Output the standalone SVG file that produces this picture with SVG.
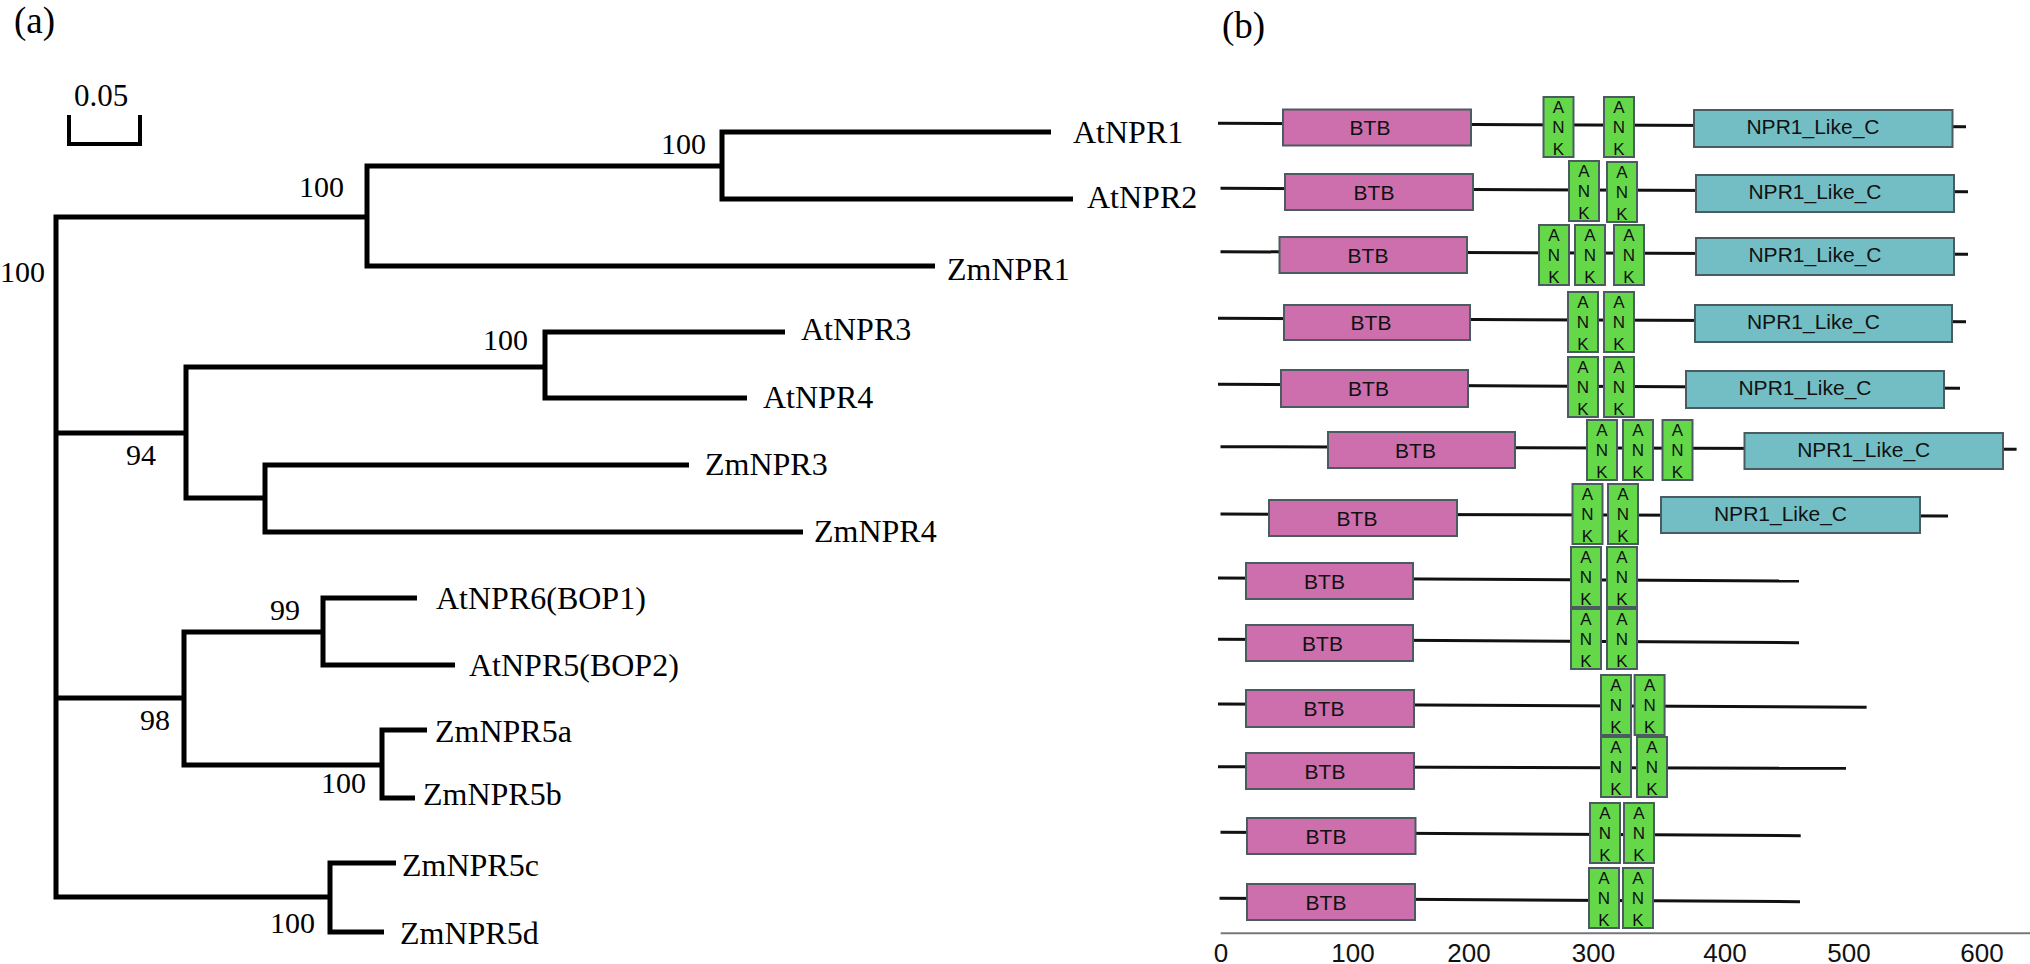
<svg xmlns="http://www.w3.org/2000/svg" width="2030" height="964" viewBox="0 0 2030 964">
<style>
.br{fill:none;stroke:#000;stroke-width:5;stroke-linejoin:miter;stroke-linecap:butt}
.sb{fill:none;stroke:#000;stroke-width:4}
.tf{font-family:"Liberation Serif","Times New Roman",serif;font-size:32px;fill:#000}
.bs{font-family:"Liberation Serif","Times New Roman",serif;font-size:30px;fill:#000}
.pl{font-family:"Liberation Serif","Times New Roman",serif;font-size:37px;fill:#000}
.ln{fill:none;stroke:#111;stroke-width:3}
.btb{fill:#CD6EAD;stroke:#4A5C60;stroke-width:2}
.npr{fill:#72BEC4;stroke:#4A5C60;stroke-width:2}
.ank{fill:#65D84A;stroke:#4A5C60;stroke-width:2}
.dt{font-family:"Liberation Sans",Arial,sans-serif;font-size:21px;text-anchor:middle;fill:#111}
.ak{font-family:"Liberation Sans",Arial,sans-serif;font-size:17px;text-anchor:middle;fill:#111}
.ax{font-family:"Liberation Sans",Arial,sans-serif;font-size:26px;text-anchor:middle;fill:#111}
</style>
<defs>
<g id="ank3"><rect class="ank" x="0" y="0" width="30" height="60"/><text class="ak" x="15" y="16">A</text><text class="ak" x="15" y="36">N</text><text class="ak" x="15" y="58">K</text></g>
</defs>
<rect x="0" y="0" width="2030" height="964" fill="#fff"/>
<text class="pl" x="14" y="33">(a)</text>
<text class="pl" x="1222" y="38">(b)</text>
<g id="scalebar"><path class="sb" d="M69,115 V144 H140 V115"/><text class="tf" x="74" y="106" style="font-size:31px">0.05</text></g>
<g id="connectors">
<path class="br" d="M367,217 H56 V897 H330"/>
<path class="br" d="M56,433 H186"/>
<path class="br" d="M56,698 H184"/>
<path class="br" d="M722,166 H367 V266 H935"/>
<path class="br" d="M1051,132 H722 V199 H1073"/>
<path class="br" d="M545,367 H186 V498 H265"/>
<path class="br" d="M785,332 H545 V398 H747"/>
<path class="br" d="M689,465 H265 V532 H803"/>
<path class="br" d="M323,632 H184 V765 H382"/>
<path class="br" d="M417,598 H323 V665 H455"/>
<path class="br" d="M427,730 H382 V798 H415"/>
<path class="br" d="M396,863 H330 V932 H384"/>
</g>
<g id="bootstrap">
<text class="bs" x="0" y="282">100</text>
<text class="bs" x="299" y="197">100</text>
<text class="bs" x="661" y="154">100</text>
<text class="bs" x="483" y="350">100</text>
<text class="bs" x="126" y="465">94</text>
<text class="bs" x="270" y="620">99</text>
<text class="bs" x="140" y="730">98</text>
<text class="bs" x="321" y="793">100</text>
<text class="bs" x="270" y="933">100</text>
</g>
<g id="leaf-AtNPR1"><text class="tf" x="1073" y="143">AtNPR1</text></g>
<g id="leaf-AtNPR2"><text class="tf" x="1087" y="208">AtNPR2</text></g>
<g id="leaf-ZmNPR1"><text class="tf" x="947" y="280">ZmNPR1</text></g>
<g id="leaf-AtNPR3"><text class="tf" x="801" y="340">AtNPR3</text></g>
<g id="leaf-AtNPR4"><text class="tf" x="763" y="408">AtNPR4</text></g>
<g id="leaf-ZmNPR3"><text class="tf" x="705" y="475">ZmNPR3</text></g>
<g id="leaf-ZmNPR4"><text class="tf" x="814" y="542">ZmNPR4</text></g>
<g id="leaf-AtNPR6"><text class="tf" x="436" y="609">AtNPR6(BOP1)</text></g>
<g id="leaf-AtNPR5"><text class="tf" x="469" y="676">AtNPR5(BOP2)</text></g>
<g id="leaf-ZmNPR5a"><text class="tf" x="435" y="742">ZmNPR5a</text></g>
<g id="leaf-ZmNPR5b"><text class="tf" x="423" y="805">ZmNPR5b</text></g>
<g id="leaf-ZmNPR5c"><text class="tf" x="402" y="876">ZmNPR5c</text></g>
<g id="leaf-ZmNPR5d"><text class="tf" x="400" y="944">ZmNPR5d</text></g>

<g id="domain-lines">
<path class="ln" d="M1218,123.3 L1966,126.7"/>
<path class="ln" d="M1220.5,188.3 L1968,191.7"/>
<path class="ln" d="M1220.5,251.7 L1968,254.3"/>
<path class="ln" d="M1218,318.3 L1966,321.7"/>
<path class="ln" d="M1218,384.3 L1960,388.3"/>
<path class="ln" d="M1220.5,446.7 L2016.6,449.3"/>
<path class="ln" d="M1220.5,514 L1948,516"/>
<path class="ln" d="M1218,578 L1799,581"/>
<path class="ln" d="M1218,639.3 L1799,642.7"/>
<path class="ln" d="M1218,704 L1866.6,707.3"/>
<path class="ln" d="M1218,766.7 L1846,768.3"/>
<path class="ln" d="M1220.5,832.3 L1800.7,835.7"/>
<path class="ln" d="M1219.5,898.3 L1800,901.7"/>
</g>

<g id="row1">
<rect class="btb" x="1283" y="109.5" width="188" height="36"/><text class="dt" x="1370" y="134.5">BTB</text>
<use href="#ank3" x="1543.5" y="97"/><use href="#ank3" x="1604" y="97"/>
<rect class="npr" x="1694" y="110" width="258.5" height="37"/><text class="dt" x="1813" y="133.5">NPR1_Like_C</text>
</g>
<g id="row2">
<rect class="btb" x="1285" y="174" width="188" height="36"/><text class="dt" x="1374" y="199.5">BTB</text>
<use href="#ank3" x="1569" y="161"/><use href="#ank3" x="1607" y="162"/>
<rect class="npr" x="1696" y="175" width="258" height="37"/><text class="dt" x="1815" y="199">NPR1_Like_C</text>
</g>
<g id="row3">
<rect class="btb" x="1279.5" y="237" width="187.5" height="36"/><text class="dt" x="1368" y="262.5">BTB</text>
<use href="#ank3" x="1539" y="225"/><use href="#ank3" x="1575" y="225"/><use href="#ank3" x="1614" y="225"/>
<rect class="npr" x="1696" y="238" width="258" height="37"/><text class="dt" x="1815" y="262">NPR1_Like_C</text>
</g>
<g id="row4">
<rect class="btb" x="1284" y="305" width="186" height="35"/><text class="dt" x="1371" y="330">BTB</text>
<use href="#ank3" x="1568" y="292"/><use href="#ank3" x="1604" y="292"/>
<rect class="npr" x="1695" y="305" width="257" height="37"/><text class="dt" x="1813.5" y="329">NPR1_Like_C</text>
</g>
<g id="row5">
<rect class="btb" x="1281" y="370" width="187" height="37"/><text class="dt" x="1368.5" y="396">BTB</text>
<use href="#ank3" x="1568" y="357"/><use href="#ank3" x="1604" y="357"/>
<rect class="npr" x="1686" y="371" width="258" height="37"/><text class="dt" x="1805" y="395">NPR1_Like_C</text>
</g>
<g id="row6">
<rect class="btb" x="1328" y="432" width="187" height="36"/><text class="dt" x="1415.5" y="457.5">BTB</text>
<use href="#ank3" x="1587" y="420"/><use href="#ank3" x="1623" y="420"/><use href="#ank3" x="1662.5" y="420"/>
<rect class="npr" x="1744.5" y="433" width="258.5" height="36"/><text class="dt" x="1863.7" y="456.5">NPR1_Like_C</text>
</g>
<g id="row7">
<rect class="btb" x="1269" y="500" width="188" height="36"/><text class="dt" x="1357" y="525.5">BTB</text>
<use href="#ank3" x="1572.5" y="484"/><use href="#ank3" x="1608" y="484"/>
<rect class="npr" x="1661" y="497" width="259" height="36"/><text class="dt" x="1780.5" y="520.5">NPR1_Like_C</text>
</g>
<g id="row8">
<rect class="btb" x="1246" y="563" width="167" height="36"/><text class="dt" x="1324.5" y="588.5">BTB</text>
<use href="#ank3" x="1571" y="547"/><use href="#ank3" x="1607" y="547"/>
</g>
<g id="row9">
<rect class="btb" x="1246" y="625" width="167" height="36"/><text class="dt" x="1322.5" y="650.5">BTB</text>
<use href="#ank3" x="1571" y="609"/><use href="#ank3" x="1607" y="609"/>
</g>
<g id="row10">
<rect class="btb" x="1246" y="690" width="168" height="37"/><text class="dt" x="1324" y="716">BTB</text>
<use href="#ank3" x="1601" y="675"/><use href="#ank3" x="1634.6" y="675"/>
</g>
<g id="row11">
<rect class="btb" x="1246" y="753" width="168" height="36"/><text class="dt" x="1325" y="778.5">BTB</text>
<use href="#ank3" x="1601" y="737"/><use href="#ank3" x="1637" y="737"/>
</g>
<g id="row12">
<rect class="btb" x="1247" y="818" width="168.5" height="36"/><text class="dt" x="1326" y="843.5">BTB</text>
<use href="#ank3" x="1590" y="803"/><use href="#ank3" x="1624" y="803"/>
</g>
<g id="row13">
<rect class="btb" x="1247" y="884" width="168" height="36"/><text class="dt" x="1326" y="909.5">BTB</text>
<use href="#ank3" x="1589" y="868"/><use href="#ank3" x="1623" y="868"/>
</g>
<g id="axis">
<path d="M1220.7,933.3 H2030" fill="none" stroke="#777" stroke-width="2"/>
<text class="ax" x="1221" y="962">0</text>
<text class="ax" x="1353" y="962">100</text>
<text class="ax" x="1469" y="962">200</text>
<text class="ax" x="1593.5" y="962">300</text>
<text class="ax" x="1725" y="962">400</text>
<text class="ax" x="1849" y="962">500</text>
<text class="ax" x="1982" y="962">600</text>
</g>
</svg>
